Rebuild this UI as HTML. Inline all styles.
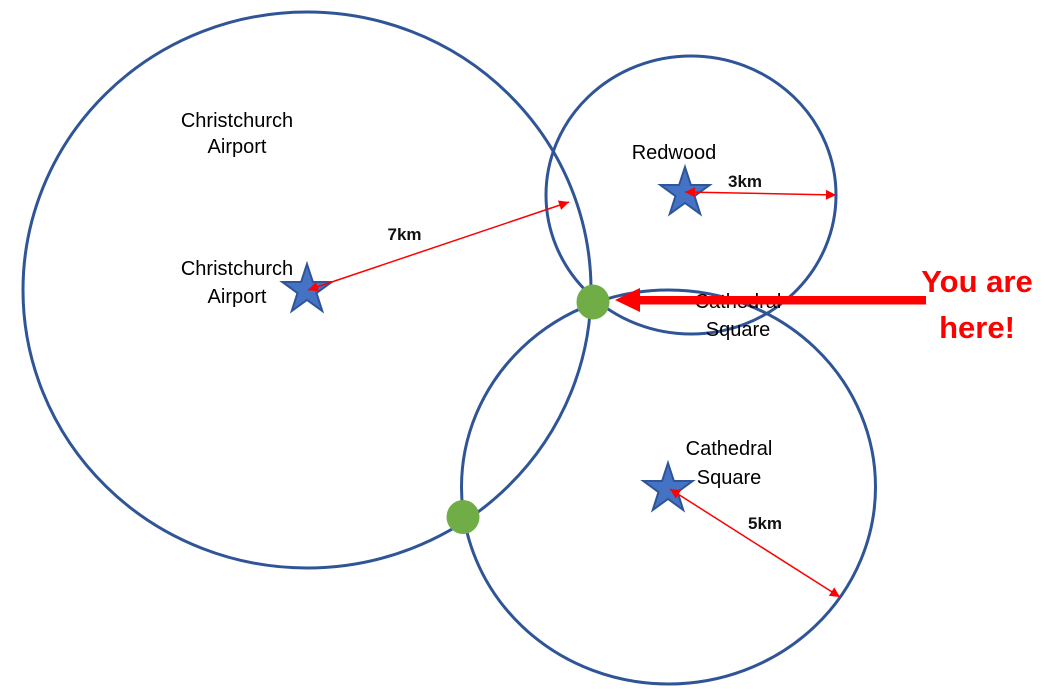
<!DOCTYPE html>
<html>
<head>
<meta charset="utf-8">
<style>
  html, body { margin:0; padding:0; background:#ffffff; }
  body { width:1045px; height:689px; overflow:hidden; }
  svg { display:block; }
  .lbl { font-family:"Liberation Sans", Arial, sans-serif; font-size:20px; fill:#000; }
  .km { font-family:"Liberation Sans", Arial, sans-serif; font-size:17px; font-weight:bold; fill:#111; }
  .you { font-family:"Liberation Sans", Arial, sans-serif; font-size:31px; font-weight:bold; fill:#ff0000; }
</style>
</head>
<body>
<svg width="1045" height="689" viewBox="0 0 1045 689" xmlns="http://www.w3.org/2000/svg">
  <defs>
    <marker id="ah" viewBox="0 0 10 10" refX="10" refY="5" markerWidth="13" markerHeight="10" markerUnits="userSpaceOnUse" orient="auto-start-reverse">
      <path d="M0,0 L10,5 L0,10 z" fill="#ff0000"/>
    </marker>
  </defs>

  <!-- circles -->
  <ellipse cx="307" cy="290" rx="284" ry="278" fill="none" stroke="#2F5597" stroke-width="3"/>
  <ellipse cx="691" cy="195" rx="145" ry="139" fill="none" stroke="#2F5597" stroke-width="3"/>
  <ellipse cx="668.5" cy="487" rx="207" ry="197" fill="none" stroke="#2F5597" stroke-width="3"/>

  <!-- labels -->
  <text class="lbl" x="237" y="127" text-anchor="middle">Christchurch</text>
  <text class="lbl" x="237" y="153" text-anchor="middle">Airport</text>

  <text class="lbl" x="237" y="275" text-anchor="middle">Christchurch</text>
  <text class="lbl" x="237" y="303" text-anchor="middle">Airport</text>

  <text class="lbl" x="674" y="159" text-anchor="middle">Redwood</text>

  <text class="lbl" x="738" y="308" text-anchor="middle">Cathedral</text>
  <text class="lbl" x="738" y="336" text-anchor="middle">Square</text>

  <text class="lbl" x="729" y="455" text-anchor="middle">Cathedral</text>
  <text class="lbl" x="729" y="484" text-anchor="middle">Square</text>

  <!-- stars -->
  <polygon transform="translate(307,290)" points="0,-26 5.88,-8.09 24.73,-8.03 9.51,3.09 15.28,21.03 0,10 -15.28,21.03 -9.51,3.09 -24.73,-8.03 -5.88,-8.09" fill="#4472C4" stroke="#2F5597" stroke-width="2" stroke-linejoin="miter"/>
  <polygon transform="translate(685,193)" points="0,-26 5.88,-8.09 24.73,-8.03 9.51,3.09 15.28,21.03 0,10 -15.28,21.03 -9.51,3.09 -24.73,-8.03 -5.88,-8.09" fill="#4472C4" stroke="#2F5597" stroke-width="2" stroke-linejoin="miter"/>
  <polygon transform="translate(668,489)" points="0,-26 5.88,-8.09 24.73,-8.03 9.51,3.09 15.28,21.03 0,10 -15.28,21.03 -9.51,3.09 -24.73,-8.03 -5.88,-8.09" fill="#4472C4" stroke="#2F5597" stroke-width="2" stroke-linejoin="miter"/>

  <!-- radius arrows -->
  <line x1="308" y1="290" x2="569" y2="202" stroke="#ff0000" stroke-width="1.5" marker-start="url(#ah)" marker-end="url(#ah)"/>
  <line x1="685" y1="192" x2="836" y2="195" stroke="#ff0000" stroke-width="1.5" marker-start="url(#ah)" marker-end="url(#ah)"/>
  <line x1="670" y1="489" x2="840" y2="597" stroke="#ff0000" stroke-width="1.5" marker-start="url(#ah)" marker-end="url(#ah)"/>

  <!-- km labels -->
  <text class="km" x="404.5" y="240" text-anchor="middle">7km</text>
  <text class="km" x="745" y="187" text-anchor="middle">3km</text>
  <text class="km" x="765" y="529" text-anchor="middle">5km</text>

  <!-- green dots -->
  <ellipse cx="593" cy="302" rx="16.5" ry="17.5" fill="#70AD47"/>
  <ellipse cx="463" cy="517" rx="16.5" ry="17" fill="#70AD47"/>

  <!-- big red arrow -->
  <rect x="636" y="296" width="290" height="8.5" fill="#ff0000"/>
  <polygon points="615,300 640,288 640,312" fill="#ff0000"/>

  <!-- You are here -->
  <text class="you" x="977" y="292" text-anchor="middle">You are</text>
  <text class="you" x="977" y="338" text-anchor="middle">here!</text>
</svg>
</body>
</html>
